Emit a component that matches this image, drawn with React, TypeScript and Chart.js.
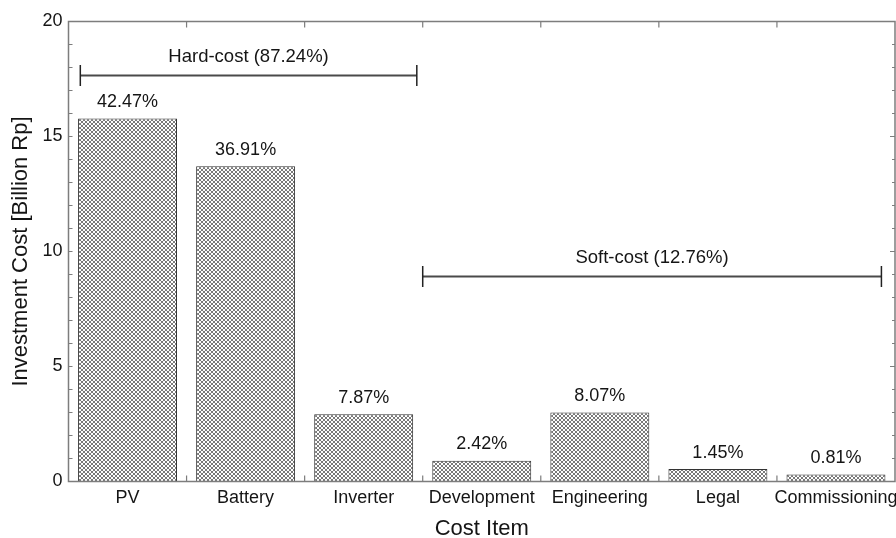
import React, { useEffect, useRef } from "react";
import { Chart, registerables } from "chart.js";

Chart.register(...registerables);

// Cost breakdown of the hybrid PV system
const categories = ["PV", "Battery", "Inverter", "Development", "Engineering", "Legal", "Commissioning"];
const costBillionRp = [15.78, 13.71, 2.92, 0.9, 3.0, 0.54, 0.3];
const shareLabels = ["42.47%", "36.91%", "7.87%", "2.42%", "8.07%", "1.45%", "0.81%"];

// Group brackets, positioned in axis units (category index / billion Rp)
const bracketNames = ["Hard-cost (87.24%)", "Soft-cost (12.76%)"];
const bracketFrom = [-0.4, 2.5];
const bracketTo = [2.45, 6.385];
const bracketLevel = [17.65, 8.91];

const yTicks = [0, 5, 10, 15, 20];

const FONT = "'Liberation Sans', Arial, Helvetica, sans-serif";
const TEXT = "#151515";

function makeHatch(ctx: CanvasRenderingContext2D): CanvasPattern | string {
  const tile = document.createElement("canvas");
  tile.width = 4;
  tile.height = 4;
  const t = tile.getContext("2d");
  if (!t) return "#b8b8b8";
  t.fillStyle = "#ffffff";
  t.fillRect(0, 0, 4, 4);
  t.fillStyle = "#7a7a7a";
  for (let i = 0; i < 4; i++) {
    t.fillRect(i, i, 1, 1);
    t.fillRect(i, 3 - i, 1, 1);
  }
  return ctx.createPattern(tile, "repeat") || "#b8b8b8";
}

const framePlugin = {
  id: "frame",
  afterDraw(chart: any) {
    const { ctx, chartArea } = chart;
    const xs = chart.scales.x;
    const ys = chart.scales.y;
    const { left, right, top, bottom } = chartArea;
    ctx.save();
    ctx.strokeStyle = "#7d7d7d";
    ctx.lineWidth = 1.5;
    ctx.strokeRect(left, top, right - left, bottom - top);
    ctx.lineWidth = 1.2;
    ctx.beginPath();
    // y minor/major ticks on both sides, pointing inward
    for (let v = 0; v <= 20; v++) {
      const y = ys.getPixelForValue(v);
      const major = v % 5 === 0;
      ctx.moveTo(left, y);
      ctx.lineTo(left + 4, y);
      ctx.moveTo(right, y);
      ctx.lineTo(right - (major ? 5 : 3), y);
    }
    // category boundary ticks on bottom and top
    for (let i = 0; i < categories.length - 1; i++) {
      const x = xs.getPixelForValue(i + 0.5);
      ctx.moveTo(x, bottom);
      ctx.lineTo(x, bottom - 6);
      ctx.moveTo(x, top);
      ctx.lineTo(x, top + 6);
    }
    ctx.stroke();
    ctx.restore();
  },
};

const labelPlugin = {
  id: "barLabels",
  afterDatasetsDraw(chart: any) {
    const { ctx } = chart;
    const meta = chart.getDatasetMeta(0);
    ctx.save();
    ctx.font = `18px ${FONT}`;
    ctx.fillStyle = TEXT;
    ctx.textAlign = "center";
    ctx.textBaseline = "alphabetic";
    meta.data.forEach((bar: any, i: number) => {
      ctx.fillText(shareLabels[i], bar.x, bar.y - 11.5);
    });
    ctx.restore();
  },
};

const bracketPlugin = {
  id: "brackets",
  afterDatasetsDraw(chart: any) {
    const { ctx } = chart;
    const xs = chart.scales.x;
    const ys = chart.scales.y;
    ctx.save();
    bracketNames.forEach((name, i) => {
      const x0 = xs.getPixelForValue(bracketFrom[i]);
      const x1 = xs.getPixelForValue(bracketTo[i]);
      const y = ys.getPixelForValue(bracketLevel[i]);
      ctx.strokeStyle = "#4a4a4a";
      ctx.lineWidth = 2;
      ctx.beginPath();
      ctx.moveTo(x0, y);
      ctx.lineTo(x1, y);
      ctx.stroke();
      ctx.strokeStyle = "#222";
      ctx.lineWidth = 1.5;
      ctx.beginPath();
      ctx.moveTo(x0, y - 10.5);
      ctx.lineTo(x0, y + 10.5);
      ctx.moveTo(x1, y - 10.5);
      ctx.lineTo(x1, y + 10.5);
      ctx.stroke();
      ctx.font = `18.5px ${FONT}`;
      ctx.fillStyle = TEXT;
      ctx.textAlign = "center";
      ctx.textBaseline = "alphabetic";
      ctx.fillText(name, (x0 + x1) / 2, y - 13.5);
    });
    ctx.restore();
  },
};

export default function App() {
  const canvasRef = useRef<HTMLCanvasElement | null>(null);

  useEffect(() => {
    const canvas = canvasRef.current;
    if (!canvas) return;
    const ctx = canvas.getContext("2d");
    if (!ctx) return;
    const hatch = makeHatch(ctx);

    const chart = new Chart(ctx, {
      type: "bar",
      data: {
        labels: categories,
        datasets: [
          {
            data: costBillionRp,
            backgroundColor: hatch as any,
            borderColor: "#333333",
            borderWidth: 1,
            barPercentage: 0.838,
            categoryPercentage: 1,
          },
        ],
      },
      options: {
        responsive: false,
        animation: false,
        layout: { padding: { top: 21.5, right: 1, left: 0, bottom: 0 } },
        plugins: {
          legend: { display: false },
          tooltip: { enabled: false },
        },
        scales: {
          x: {
            grid: { display: false, drawTicks: false },
            border: { display: false },
            ticks: {
              font: { family: FONT, size: 18 },
              color: TEXT,
              padding: 6,
              maxRotation: 0,
              autoSkip: false,
            },
            title: {
              display: true,
              text: "Cost Item",
              font: { family: FONT, size: 22 },
              color: TEXT,
              padding: { top: 0, bottom: -4 },
            },
            afterFit(scale: any) {
              scale.height = 56.5;
              scale.paddingLeft = 0;
              scale.paddingRight = 0;
            },
          },
          y: {
            min: 0,
            max: 20,
            afterBuildTicks(scale: any) {
              scale.ticks = yTicks.map((v) => ({ value: v }));
            },
            grid: { display: false, drawTicks: false },
            border: { display: false },
            ticks: {
              font: { family: FONT, size: 18 },
              color: TEXT,
              padding: 6,
            },
            title: {
              display: true,
              text: "Investment Cost [Billion Rp]",
              font: { family: FONT, size: 22 },
              color: TEXT,
              padding: { top: 8, bottom: 0 },
            },
            afterFit(scale: any) {
              scale.width = 68.5;
              scale.paddingTop = 0;
              scale.paddingBottom = 0;
            },
          },
        },
      },
      plugins: [framePlugin, bracketPlugin, labelPlugin],
    });

    return () => chart.destroy();
  }, []);

  return (
    <div style={{ position: "absolute", left: 0, top: 0, width: 896, height: 538, background: "#fff" }}>
      <canvas ref={canvasRef} width={896} height={538} style={{ display: "block" }} />
    </div>
  );
}
